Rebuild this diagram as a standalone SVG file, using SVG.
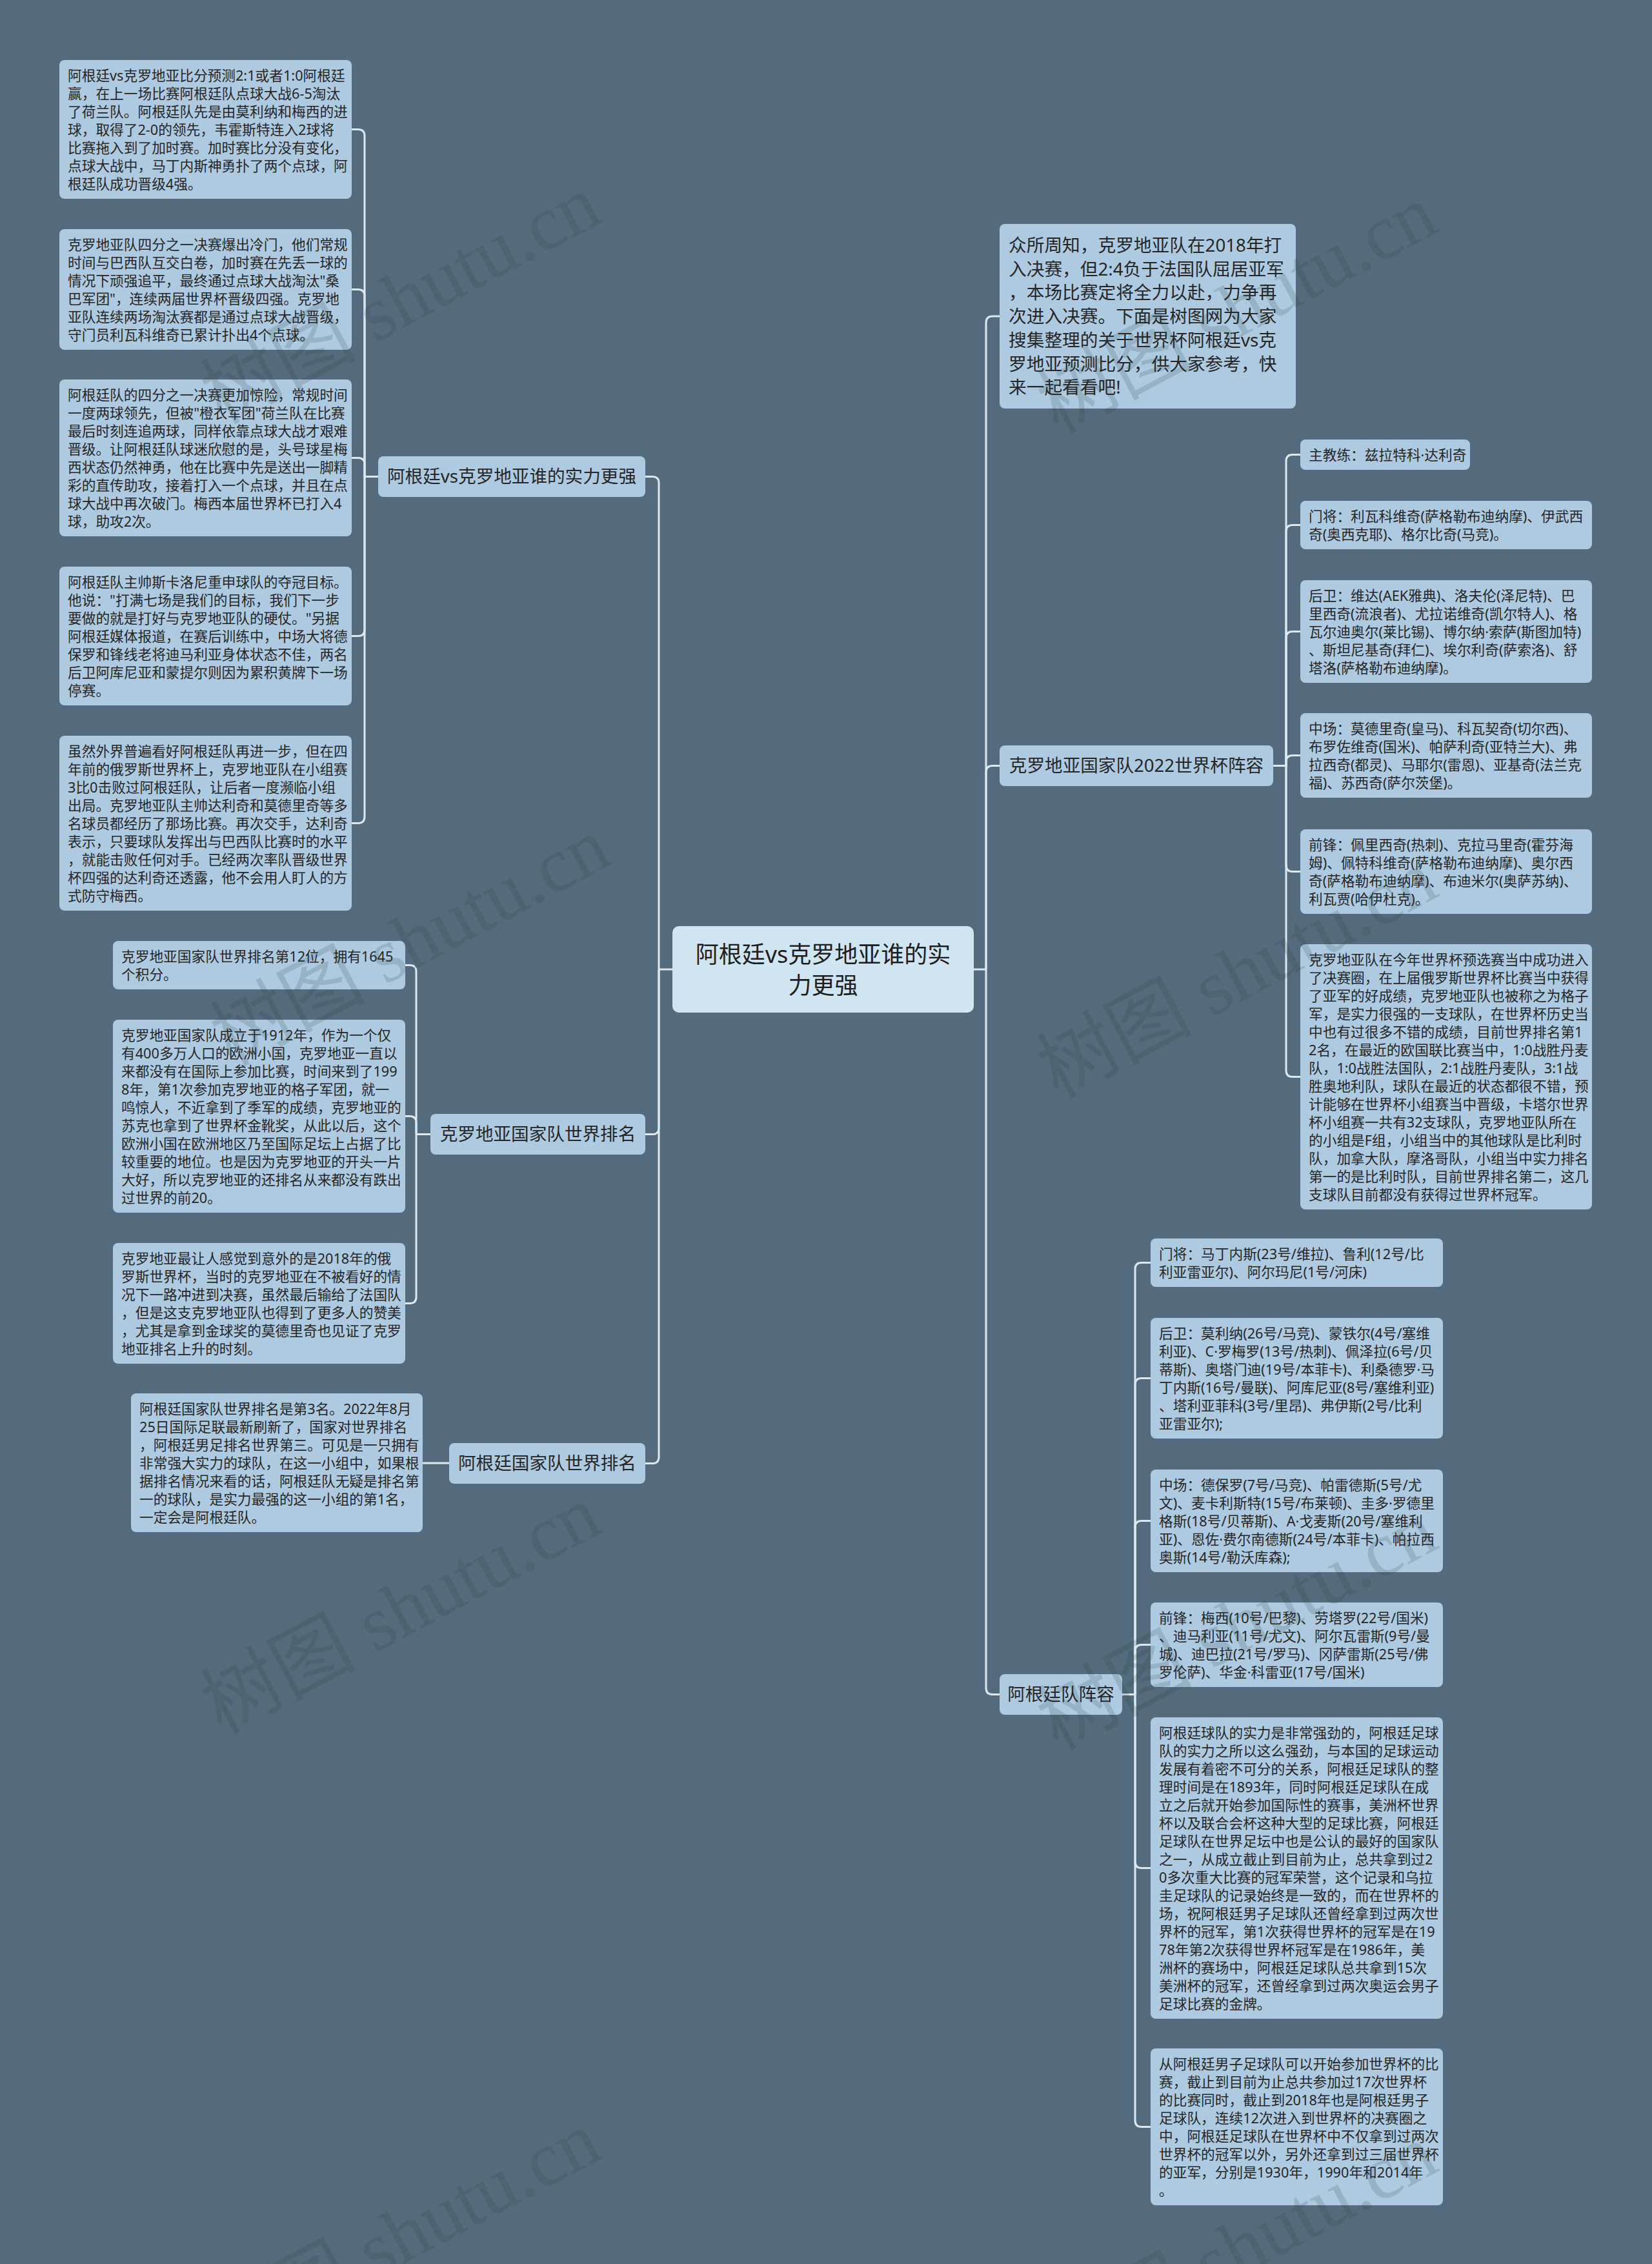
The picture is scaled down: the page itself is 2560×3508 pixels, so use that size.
<svg xmlns="http://www.w3.org/2000/svg" width="2560" height="3508" viewBox="0 0 2560 3508">
<style>
.bg{fill:#536b7c}
.box{fill:#adcae0}
.cbox{fill:#d0e5f2}
.t{font-family:'Noto Sans','Noto Sans CJK SC',sans-serif;font-size:21.7px;fill:#262626}
.bt{font-family:'Noto Sans','Noto Sans CJK SC',sans-serif;font-size:27.6px;fill:#262626;text-anchor:middle}
.it{font-family:'Noto Sans','Noto Sans CJK SC',sans-serif;font-size:27.7px;fill:#262626}
.ct{font-family:'Noto Sans','Noto Sans CJK SC',sans-serif;font-size:36px;fill:#1e1e1e;text-anchor:middle}
.wm{font-family:'Liberation Serif','Noto Sans CJK SC',serif;font-size:120px;fill:#2c3a44;fill-opacity:0.17;text-anchor:middle}
.c{fill:none;stroke:#dce9f2;stroke-width:3}
</style>
<rect class="bg" x="0" y="0" width="2560" height="3508"/>

<g id="connectors">
<path class="c" d="M1042,1502 H1021"/>
<path class="c" d="M1021,1502 V748.5 Q1021,738.5 1011,738.5 H1000"/>
<path class="c" d="M1021,1502 V1747.5 Q1021,1757.5 1011,1757.5 H1000"/>
<path class="c" d="M1021,1502 V2257.5 Q1021,2267.5 1011,2267.5 H1000"/>
<path class="c" d="M1509,1502 H1528"/>
<path class="c" d="M1528,1502 V500 Q1528,490 1538,490 H1549"/>
<path class="c" d="M1528,1502 V1196.5 Q1528,1186.5 1538,1186.5 H1549"/>
<path class="c" d="M1528,1502 V2615.5 Q1528,2625.5 1538,2625.5 H1549"/>
<path class="c" d="M586,738.5 H565"/>
<path class="c" d="M565,738.5 V210.5 Q565,200.5 555,200.5 H545"/>
<path class="c" d="M565,738.5 V458.5 Q565,448.5 555,448.5 H545"/>
<path class="c" d="M565,738.5 V719.5 Q565,709.5 555,709.5 H545"/>
<path class="c" d="M565,738.5 V975.5 Q565,985.5 555,985.5 H545"/>
<path class="c" d="M565,738.5 V1265.5 Q565,1275.5 555,1275.5 H545"/>
<path class="c" d="M667,1757.5 H645"/>
<path class="c" d="M645,1757.5 V1505.5 Q645,1495.5 635,1495.5 H628"/>
<path class="c" d="M645,1757.5 V1739.5 Q645,1729.5 635,1729.5 H628"/>
<path class="c" d="M645,1757.5 V2009.5 Q645,2019.5 635,2019.5 H628"/>
<path class="c" d="M696,2267 H655"/>
<path class="c" d="M1973,1186.5 H1993"/>
<path class="c" d="M1993,1186.5 V714.5 Q1993,704.5 2003,704.5 H2015"/>
<path class="c" d="M1993,1186.5 V823.5 Q1993,813.5 2003,813.5 H2015"/>
<path class="c" d="M1993,1186.5 V988.5 Q1993,978.5 2003,978.5 H2015"/>
<path class="c" d="M1993,1186.5 V1180.5 Q1993,1170.5 2003,1170.5 H2015"/>
<path class="c" d="M1993,1186.5 V1340.5 Q1993,1350.5 2003,1350.5 H2015"/>
<path class="c" d="M1993,1186.5 V1658.5 Q1993,1668.5 2003,1668.5 H2015"/>
<path class="c" d="M1739,2625.5 H1759"/>
<path class="c" d="M1759,2625.5 V1966.5 Q1759,1956.5 1769,1956.5 H1783"/>
<path class="c" d="M1759,2625.5 V2145.5 Q1759,2135.5 1769,2135.5 H1783"/>
<path class="c" d="M1759,2625.5 V2366.5 Q1759,2356.5 1769,2356.5 H1783"/>
<path class="c" d="M1759,2625.5 V2558.5 Q1759,2548.5 1769,2548.5 H1783"/>
<path class="c" d="M1759,2625.5 V2884.5 Q1759,2894.5 1769,2894.5 H1783"/>
<path class="c" d="M1759,2625.5 V3285.5 Q1759,3295.5 1769,3295.5 H1783"/>
</g>

<g id="center">
<rect class="cbox" x="1042" y="1435" width="467" height="134" rx="10"/>
<text class="ct"><tspan x="1275.5" y="1492">阿根廷vs克罗地亚谁的实</tspan><tspan x="1275.5" y="1540">力更强</tspan></text>
</g>

<g id="branch-strength">
<rect class="box" x="586" y="707" width="414" height="63" rx="8"/>
<text class="bt" x="793" y="748">阿根廷vs克罗地亚谁的实力更强</text>
</g>
<g id="branch-cro-rank">
<rect class="box" x="667" y="1726" width="333" height="63" rx="8"/>
<text class="bt" x="833.5" y="1767">克罗地亚国家队世界排名</text>
</g>
<g id="branch-arg-rank">
<rect class="box" x="696" y="2236" width="304" height="63" rx="8"/>
<text class="bt" x="848" y="2277">阿根廷国家队世界排名</text>
</g>
<g id="intro">
<rect class="box" x="1549" y="347" width="459" height="286" rx="8"/>
<text class="it"><tspan x="1563" y="390">众所周知，克罗地亚队在2018年打</tspan><tspan x="1563" y="426.7">入决赛，但2:4负于法国队屈居亚军</tspan><tspan x="1563" y="463.4">，本场比赛定将全力以赴，力争再</tspan><tspan x="1563" y="500.1">次进入决赛。下面是树图网为大家</tspan><tspan x="1563" y="536.8">搜集整理的关于世界杯阿根廷vs克</tspan><tspan x="1563" y="573.5">罗地亚预测比分，供大家参考，快</tspan><tspan x="1563" y="610.2">来一起看看吧!</tspan></text>
</g>
<g id="branch-cro-lineup">
<rect class="box" x="1549" y="1155" width="424" height="63" rx="8"/>
<text class="bt" x="1761" y="1196">克罗地亚国家队2022世界杯阵容</text>
</g>
<g id="branch-arg-lineup">
<rect class="box" x="1549" y="2594" width="190" height="63" rx="8"/>
<text class="bt" x="1644" y="2635">阿根廷队阵容</text>
</g>

<g id="leaf-s1">
<rect class="box" x="92" y="93" width="453" height="215" rx="8"/>
<text class="t"><tspan x="105" y="124.5">阿根廷vs克罗地亚比分预测2:1或者1:0阿根廷</tspan><tspan x="105" y="152.5">赢，在上一场比赛阿根廷队点球大战6-5淘汰</tspan><tspan x="105" y="180.5">了荷兰队。阿根廷队先是由莫利纳和梅西的进</tspan><tspan x="105" y="208.5">球，取得了2-0的领先，韦霍斯特连入2球将</tspan><tspan x="105" y="236.5">比赛拖入到了加时赛。加时赛比分没有变化，</tspan><tspan x="105" y="264.5">点球大战中，马丁内斯神勇扑了两个点球，阿</tspan><tspan x="105" y="292.5">根廷队成功晋级4强。</tspan></text>
</g>
<g id="leaf-s2">
<rect class="box" x="92" y="355" width="453" height="187" rx="8"/>
<text class="t"><tspan x="105" y="386.5">克罗地亚队四分之一决赛爆出冷门，他们常规</tspan><tspan x="105" y="414.5">时间与巴西队互交白卷，加时赛在先丢一球的</tspan><tspan x="105" y="442.5">情况下顽强追平，最终通过点球大战淘汰"桑</tspan><tspan x="105" y="470.5">巴军团"，连续两届世界杯晋级四强。克罗地</tspan><tspan x="105" y="498.5">亚队连续两场淘汰赛都是通过点球大战晋级，</tspan><tspan x="105" y="526.5">守门员利瓦科维奇已累计扑出4个点球。</tspan></text>
</g>
<g id="leaf-s3">
<rect class="box" x="92" y="588" width="453" height="243" rx="8"/>
<text class="t"><tspan x="105" y="619.5">阿根廷队的四分之一决赛更加惊险，常规时间</tspan><tspan x="105" y="647.5">一度两球领先，但被"橙衣军团"荷兰队在比赛</tspan><tspan x="105" y="675.5">最后时刻连追两球，同样依靠点球大战才艰难</tspan><tspan x="105" y="703.5">晋级。让阿根廷队球迷欣慰的是，头号球星梅</tspan><tspan x="105" y="731.5">西状态仍然神勇，他在比赛中先是送出一脚精</tspan><tspan x="105" y="759.5">彩的直传助攻，接着打入一个点球，并且在点</tspan><tspan x="105" y="787.5">球大战中再次破门。梅西本届世界杯已打入4</tspan><tspan x="105" y="815.5">球，助攻2次。</tspan></text>
</g>
<g id="leaf-s4">
<rect class="box" x="92" y="878" width="453" height="215" rx="8"/>
<text class="t"><tspan x="105" y="909.5">阿根廷队主帅斯卡洛尼重申球队的夺冠目标。</tspan><tspan x="105" y="937.5">他说："打满七场是我们的目标，我们下一步</tspan><tspan x="105" y="965.5">要做的就是打好与克罗地亚队的硬仗。"另据</tspan><tspan x="105" y="993.5">阿根廷媒体报道，在赛后训练中，中场大将德</tspan><tspan x="105" y="1021.5">保罗和锋线老将迪马利亚身体状态不佳，两名</tspan><tspan x="105" y="1049.5">后卫阿库尼亚和蒙提尔则因为累积黄牌下一场</tspan><tspan x="105" y="1077.5">停赛。</tspan></text>
</g>
<g id="leaf-s5">
<rect class="box" x="92" y="1140" width="453" height="271" rx="8"/>
<text class="t"><tspan x="105" y="1171.5">虽然外界普遍看好阿根廷队再进一步，但在四</tspan><tspan x="105" y="1199.5">年前的俄罗斯世界杯上，克罗地亚队在小组赛</tspan><tspan x="105" y="1227.5">3比0击败过阿根廷队，让后者一度濒临小组</tspan><tspan x="105" y="1255.5">出局。克罗地亚队主帅达利奇和莫德里奇等多</tspan><tspan x="105" y="1283.5">名球员都经历了那场比赛。再次交手，达利奇</tspan><tspan x="105" y="1311.5">表示，只要球队发挥出与巴西队比赛时的水平</tspan><tspan x="105" y="1339.5">，就能击败任何对手。已经两次率队晋级世界</tspan><tspan x="105" y="1367.5">杯四强的达利奇还透露，他不会用人盯人的方</tspan><tspan x="105" y="1395.5">式防守梅西。</tspan></text>
</g>

<g id="leaf-cr1">
<rect class="box" x="175" y="1458" width="453" height="75" rx="8"/>
<text class="t"><tspan x="188" y="1489.5">克罗地亚国家队世界排名第12位，拥有1645</tspan><tspan x="188" y="1517.5">个积分。</tspan></text>
</g>
<g id="leaf-cr2">
<rect class="box" x="175" y="1580" width="453" height="299" rx="8"/>
<text class="t"><tspan x="188" y="1611.5">克罗地亚国家队成立于1912年，作为一个仅</tspan><tspan x="188" y="1639.5">有400多万人口的欧洲小国，克罗地亚一直以</tspan><tspan x="188" y="1667.5">来都没有在国际上参加比赛，时间来到了199</tspan><tspan x="188" y="1695.5">8年，第1次参加克罗地亚的格子军团，就一</tspan><tspan x="188" y="1723.5">鸣惊人，不近拿到了季军的成绩，克罗地亚的</tspan><tspan x="188" y="1751.5">苏克也拿到了世界杯金靴奖，从此以后，这个</tspan><tspan x="188" y="1779.5">欧洲小国在欧洲地区乃至国际足坛上占据了比</tspan><tspan x="188" y="1807.5">较重要的地位。也是因为克罗地亚的开头一片</tspan><tspan x="188" y="1835.5">大好，所以克罗地亚的还排名从来都没有跌出</tspan><tspan x="188" y="1863.5">过世界的前20。</tspan></text>
</g>
<g id="leaf-cr3">
<rect class="box" x="175" y="1926" width="453" height="187" rx="8"/>
<text class="t"><tspan x="188" y="1957.5">克罗地亚最让人感觉到意外的是2018年的俄</tspan><tspan x="188" y="1985.5">罗斯世界杯，当时的克罗地亚在不被看好的情</tspan><tspan x="188" y="2013.5">况下一路冲进到决赛，虽然最后输给了法国队</tspan><tspan x="188" y="2041.5">，但是这支克罗地亚队也得到了更多人的赞美</tspan><tspan x="188" y="2069.5">，尤其是拿到金球奖的莫德里奇也见证了克罗</tspan><tspan x="188" y="2097.5">地亚排名上升的时刻。</tspan></text>
</g>

<g id="leaf-ar1">
<rect class="box" x="203" y="2159" width="452" height="215" rx="8"/>
<text class="t"><tspan x="216" y="2190.5">阿根廷国家队世界排名是第3名。2022年8月</tspan><tspan x="216" y="2218.5">25日国际足联最新刷新了，国家对世界排名</tspan><tspan x="216" y="2246.5">，阿根廷男足排名世界第三。可见是一只拥有</tspan><tspan x="216" y="2274.5">非常强大实力的球队，在这一小组中，如果根</tspan><tspan x="216" y="2302.5">据排名情况来看的话，阿根廷队无疑是排名第</tspan><tspan x="216" y="2330.5">一的球队，是实力最强的这一小组的第1名，</tspan><tspan x="216" y="2358.5">一定会是阿根廷队。</tspan></text>
</g>

<g id="leaf-cl1">
<rect class="box" x="2015" y="681" width="263" height="47" rx="8"/>
<text class="t"><tspan x="2028" y="712.5">主教练：兹拉特科·达利奇</tspan></text>
</g>
<g id="leaf-cl2">
<rect class="box" x="2015" y="776" width="452" height="75" rx="8"/>
<text class="t"><tspan x="2028" y="807.5">门将：利瓦科维奇(萨格勒布迪纳摩)、伊武西</tspan><tspan x="2028" y="835.5">奇(奥西克耶)、格尔比奇(马竞)。</tspan></text>
</g>
<g id="leaf-cl3">
<rect class="box" x="2015" y="899" width="452" height="159" rx="8"/>
<text class="t"><tspan x="2028" y="930.5">后卫：维达(AEK雅典)、洛夫伦(泽尼特)、巴</tspan><tspan x="2028" y="958.5">里西奇(流浪者)、尤拉诺维奇(凯尔特人)、格</tspan><tspan x="2028" y="986.5">瓦尔迪奥尔(莱比锡)、博尔纳·索萨(斯图加特)</tspan><tspan x="2028" y="1014.5">、斯坦尼基奇(拜仁)、埃尔利奇(萨索洛)、舒</tspan><tspan x="2028" y="1042.5">塔洛(萨格勒布迪纳摩)。</tspan></text>
</g>
<g id="leaf-cl4">
<rect class="box" x="2015" y="1105" width="452" height="131" rx="8"/>
<text class="t"><tspan x="2028" y="1136.5">中场：莫德里奇(皇马)、科瓦契奇(切尔西)、</tspan><tspan x="2028" y="1164.5">布罗佐维奇(国米)、帕萨利奇(亚特兰大)、弗</tspan><tspan x="2028" y="1192.5">拉西奇(都灵)、马耶尔(雷恩)、亚基奇(法兰克</tspan><tspan x="2028" y="1220.5">福)、苏西奇(萨尔茨堡)。</tspan></text>
</g>
<g id="leaf-cl5">
<rect class="box" x="2015" y="1285" width="452" height="131" rx="8"/>
<text class="t"><tspan x="2028" y="1316.5">前锋：佩里西奇(热刺)、克拉马里奇(霍芬海</tspan><tspan x="2028" y="1344.5">姆)、佩特科维奇(萨格勒布迪纳摩)、奥尔西</tspan><tspan x="2028" y="1372.5">奇(萨格勒布迪纳摩)、布迪米尔(奥萨苏纳)、</tspan><tspan x="2028" y="1400.5">利瓦贾(哈伊杜克)。</tspan></text>
</g>
<g id="leaf-cl6">
<rect class="box" x="2015" y="1463" width="452" height="411" rx="8"/>
<text class="t"><tspan x="2028" y="1494.5">克罗地亚队在今年世界杯预选赛当中成功进入</tspan><tspan x="2028" y="1522.5">了决赛圈，在上届俄罗斯世界杯比赛当中获得</tspan><tspan x="2028" y="1550.5">了亚军的好成绩，克罗地亚队也被称之为格子</tspan><tspan x="2028" y="1578.5">军，是实力很强的一支球队，在世界杯历史当</tspan><tspan x="2028" y="1606.5">中也有过很多不错的成绩，目前世界排名第1</tspan><tspan x="2028" y="1634.5">2名，在最近的欧国联比赛当中，1:0战胜丹麦</tspan><tspan x="2028" y="1662.5">队，1:0战胜法国队，2:1战胜丹麦队，3:1战</tspan><tspan x="2028" y="1690.5">胜奥地利队，球队在最近的状态都很不错，预</tspan><tspan x="2028" y="1718.5">计能够在世界杯小组赛当中晋级，卡塔尔世界</tspan><tspan x="2028" y="1746.5">杯小组赛一共有32支球队，克罗地亚队所在</tspan><tspan x="2028" y="1774.5">的小组是F组，小组当中的其他球队是比利时</tspan><tspan x="2028" y="1802.5">队，加拿大队，摩洛哥队，小组当中实力排名</tspan><tspan x="2028" y="1830.5">第一的是比利时队，目前世界排名第二，这几</tspan><tspan x="2028" y="1858.5">支球队目前都没有获得过世界杯冠军。</tspan></text>
</g>

<g id="leaf-al1">
<rect class="box" x="1783" y="1919" width="453" height="75" rx="8"/>
<text class="t"><tspan x="1796" y="1950.5">门将：马丁内斯(23号/维拉)、鲁利(12号/比</tspan><tspan x="1796" y="1978.5">利亚雷亚尔)、阿尔玛尼(1号/河床)</tspan></text>
</g>
<g id="leaf-al2">
<rect class="box" x="1783" y="2042" width="453" height="187" rx="8"/>
<text class="t"><tspan x="1796" y="2073.5">后卫：莫利纳(26号/马竞)、蒙铁尔(4号/塞维</tspan><tspan x="1796" y="2101.5">利亚)、C·罗梅罗(13号/热刺)、佩泽拉(6号/贝</tspan><tspan x="1796" y="2129.5">蒂斯)、奥塔门迪(19号/本菲卡)、利桑德罗·马</tspan><tspan x="1796" y="2157.5">丁内斯(16号/曼联)、阿库尼亚(8号/塞维利亚)</tspan><tspan x="1796" y="2185.5">、塔利亚菲科(3号/里昂)、弗伊斯(2号/比利</tspan><tspan x="1796" y="2213.5">亚雷亚尔);</tspan></text>
</g>
<g id="leaf-al3">
<rect class="box" x="1783" y="2277" width="453" height="159" rx="8"/>
<text class="t"><tspan x="1796" y="2308.5">中场：德保罗(7号/马竞)、帕雷德斯(5号/尤</tspan><tspan x="1796" y="2336.5">文)、麦卡利斯特(15号/布莱顿)、圭多·罗德里</tspan><tspan x="1796" y="2364.5">格斯(18号/贝蒂斯)、A·戈麦斯(20号/塞维利</tspan><tspan x="1796" y="2392.5">亚)、恩佐·费尔南德斯(24号/本菲卡)、帕拉西</tspan><tspan x="1796" y="2420.5">奥斯(14号/勒沃库森);</tspan></text>
</g>
<g id="leaf-al4">
<rect class="box" x="1783" y="2483" width="453" height="131" rx="8"/>
<text class="t"><tspan x="1796" y="2514.5">前锋：梅西(10号/巴黎)、劳塔罗(22号/国米)</tspan><tspan x="1796" y="2542.5">、迪马利亚(11号/尤文)、阿尔瓦雷斯(9号/曼</tspan><tspan x="1796" y="2570.5">城)、迪巴拉(21号/罗马)、冈萨雷斯(25号/佛</tspan><tspan x="1796" y="2598.5">罗伦萨)、华金·科雷亚(17号/国米)</tspan></text>
</g>
<g id="leaf-al5">
<rect class="box" x="1783" y="2661" width="453" height="467" rx="8"/>
<text class="t"><tspan x="1796" y="2692.5">阿根廷球队的实力是非常强劲的，阿根廷足球</tspan><tspan x="1796" y="2720.5">队的实力之所以这么强劲，与本国的足球运动</tspan><tspan x="1796" y="2748.5">发展有着密不可分的关系，阿根廷足球队的整</tspan><tspan x="1796" y="2776.5">理时间是在1893年，同时阿根廷足球队在成</tspan><tspan x="1796" y="2804.5">立之后就开始参加国际性的赛事，美洲杯世界</tspan><tspan x="1796" y="2832.5">杯以及联合会杯这种大型的足球比赛，阿根廷</tspan><tspan x="1796" y="2860.5">足球队在世界足坛中也是公认的最好的国家队</tspan><tspan x="1796" y="2888.5">之一，从成立截止到目前为止，总共拿到过2</tspan><tspan x="1796" y="2916.5">0多次重大比赛的冠军荣誉，这个记录和乌拉</tspan><tspan x="1796" y="2944.5">圭足球队的记录始终是一致的，而在世界杯的</tspan><tspan x="1796" y="2972.5">场，祝阿根廷男子足球队还曾经拿到过两次世</tspan><tspan x="1796" y="3000.5">界杯的冠军，第1次获得世界杯的冠军是在19</tspan><tspan x="1796" y="3028.5">78年第2次获得世界杯冠军是在1986年，美</tspan><tspan x="1796" y="3056.5">洲杯的赛场中，阿根廷足球队总共拿到15次</tspan><tspan x="1796" y="3084.5">美洲杯的冠军，还曾经拿到过两次奥运会男子</tspan><tspan x="1796" y="3112.5">足球比赛的金牌。</tspan></text>
</g>
<g id="leaf-al6">
<rect class="box" x="1783" y="3174" width="453" height="243" rx="8"/>
<text class="t"><tspan x="1796" y="3205.5">从阿根廷男子足球队可以开始参加世界杯的比</tspan><tspan x="1796" y="3233.5">赛，截止到目前为止总共参加过17次世界杯</tspan><tspan x="1796" y="3261.5">的比赛同时，截止到2018年也是阿根廷男子</tspan><tspan x="1796" y="3289.5">足球队，连续12次进入到世界杯的决赛圈之</tspan><tspan x="1796" y="3317.5">中，阿根廷足球队在世界杯中不仅拿到过两次</tspan><tspan x="1796" y="3345.5">世界杯的冠军以外，另外还拿到过三届世界杯</tspan><tspan x="1796" y="3373.5">的亚军，分别是1930年，1990年和2014年</tspan><tspan x="1796" y="3401.5">。</tspan></text>
</g>

<g id="watermarks">
<text class="wm" transform="translate(640,500) rotate(-28)">树图 shutu.cn</text>
<text class="wm" transform="translate(1936,515) rotate(-28)">树图 shutu.cn</text>
<text class="wm" transform="translate(655,1495) rotate(-28)">树图 shutu.cn</text>
<text class="wm" transform="translate(1936,1545) rotate(-28)">树图 shutu.cn</text>
<text class="wm" transform="translate(640,2530) rotate(-28)">树图 shutu.cn</text>
<text class="wm" transform="translate(1936,2555) rotate(-28)">树图 shutu.cn</text>
<text class="wm" transform="translate(640,3500) rotate(-28)">树图 shutu.cn</text>
<text class="wm" transform="translate(1936,3520) rotate(-28)">树图 shutu.cn</text>
</g>
</svg>
